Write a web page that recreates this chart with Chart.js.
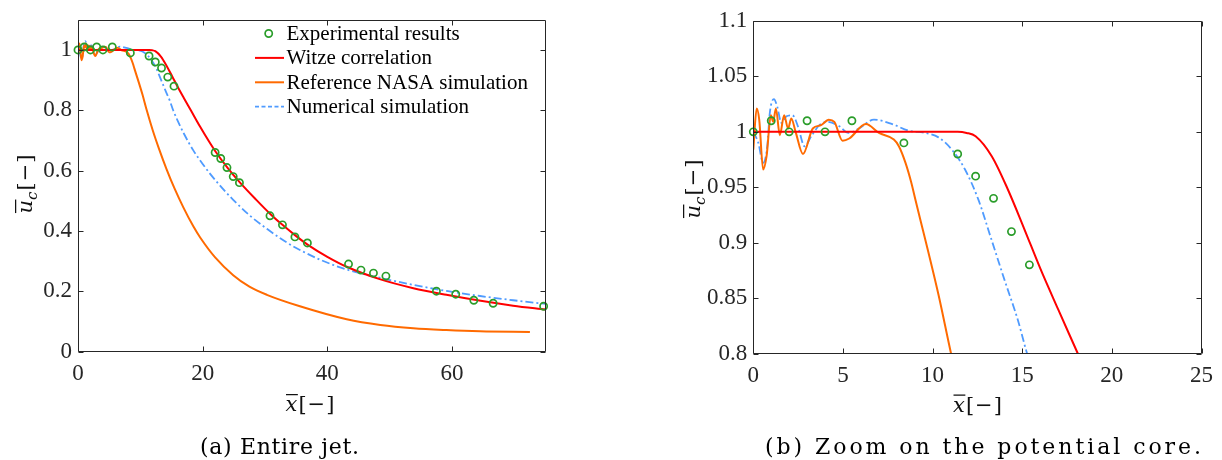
<!DOCTYPE html>
<html>
<head>
<meta charset="utf-8">
<script src="https://cdn.jsdelivr.net/npm/chart.js@4.4.1/dist/chart.umd.min.js"></script>
<style>
  html, body { margin: 0; padding: 0; background: #fff; }
  body { width: 1222px; height: 460px; position: relative; overflow: hidden; }
  canvas { position: absolute; top: 0; }
  #jetFull { left: 0; }
  #jetCore { left: 611px; }
</style>
</head>
<body>
<canvas id="jetFull" width="611" height="460"></canvas>
<canvas id="jetCore" width="611" height="460"></canvas>
<script>
// Centreline velocity u_c versus axial distance x (both normalised)

// Experimental results
const expX = [0, 1, 2, 3, 4, 5.5, 8.4, 11.4, 12.4, 13.4, 14.4, 15.4, 22.0, 22.9, 23.9, 24.9, 25.9,
              30.8, 32.8, 34.8, 36.8, 43.4, 45.4, 47.4, 49.4, 57.5, 60.6, 63.5, 66.6, 74.7];
const expY = [1.0, 1.01, 1.0, 1.01, 1.0, 1.01, 0.99, 0.98, 0.96, 0.94, 0.91, 0.88, 0.66, 0.64, 0.61, 0.58, 0.56,
              0.45, 0.42, 0.38, 0.36, 0.29, 0.27, 0.26, 0.25, 0.20, 0.19, 0.17, 0.16, 0.15];

// Witze correlation
const witzeX = [0, 11.4, 11.9, 12.4, 13.3, 14.2, 15.1, 16.0, 17.0, 18.1, 19.6, 21.0, 22.0, 24.0, 26.0,
                28.5, 30.8, 32.8, 34.8, 37.0, 40.0, 43.1, 48.4, 53.8, 59.1, 64.6, 69.8, 75];
const witzeY = [1.0, 1.0, 0.999, 0.996, 0.978, 0.948, 0.913, 0.877, 0.840, 0.800, 0.745, 0.697, 0.665, 0.609, 0.560,
                0.505, 0.457, 0.420, 0.386, 0.352, 0.314, 0.281, 0.240, 0.210, 0.188, 0.168, 0.152, 0.139];

// Reference NASA simulation
const nasaX = [0, 0.19, 0.33, 0.55, 0.74, 0.98, 1.11, 1.26, 1.48, 1.72, 1.94, 2.12, 2.36, 2.77, 3.32, 3.78,
               4.21, 4.52, 4.98, 5.35, 6.28, 7.01, 7.84, 8.12, 8.49, 8.8, 9.04, 10.33, 11.03, 12.0, 13.0, 14.2,
               15.5, 16.9, 18.5, 19.6, 22.0, 24.9, 27.5, 30.3, 35.6, 43.1, 48.5, 53.8, 59.1, 64.5, 72.5];
const nasaY = [0.984, 1.021, 1.011, 0.966, 0.978, 1.015, 1.009, 1.021, 0.997, 1.015, 1.003, 1.012, 1.0, 0.980, 1.003, 1.006,
               1.011, 1.009, 0.992, 0.994, 1.007, 0.999, 0.993, 0.987, 0.972, 0.955, 0.939, 0.853, 0.800, 0.733, 0.672, 0.605,
               0.540, 0.478, 0.415, 0.378, 0.312, 0.253, 0.215, 0.188, 0.150, 0.107, 0.088, 0.077, 0.071, 0.067, 0.065];

// Numerical simulation
const numX = [0, 0.28, 0.55, 0.78, 0.92, 1.15, 1.33, 1.57, 1.85, 2.18, 2.49, 2.86, 3.23, 3.69, 4.15, 4.8,
              5.31, 5.9, 6.73, 7.75, 8.67, 9.6, 10.33, 11.07, 11.81, 12.55, 13.28, 14.02, 14.76, 15.27,
              16.0, 17.0, 18.5, 20.0, 21.2, 23.0, 24.9, 27.5, 30.3, 33.0, 35.3, 39.0, 43.1, 48.5, 53.8,
              59.1, 64.5, 69.8, 75];
const numY = [1.0, 0.990, 0.972, 0.987, 1.017, 1.0295, 1.023, 1.008, 1.014, 1.015, 1.005, 0.987, 0.996, 1.006, 1.009, 1.005,
              0.999, 1.003, 1.011, 1.007, 1.001, 0.999, 0.995, 0.984, 0.966, 0.939, 0.903, 0.866, 0.830, 0.800,
              0.765, 0.722, 0.667, 0.622, 0.589, 0.545, 0.503, 0.452, 0.407, 0.368, 0.340, 0.303, 0.272, 0.244, 0.221,
              0.201, 0.184, 0.170, 0.158];

const seriesLabels = ['Experimental results', 'Witze correlation', 'Reference NASA simulation', 'Numerical simulation'];

// Tick positions
const fullXTicks = [0, 20, 40, 60];
const fullYTicks = [0, 0.2, 0.4, 0.6, 0.8, 1];
const coreXTicks = [0, 5, 10, 15, 20, 25];
const coreYTicks = [0.8, 0.85, 0.9, 0.95, 1, 1.05, 1.1];

const SERIF = "'Liberation Serif', 'Times New Roman', serif";
const MATH = "'DejaVu Serif', serif";
const AXIS = '#262626';
const COLORS = ['#2a9d2a', '#ff0000', '#ff6a00', '#4f9bff'];

function pairs(xs, ys) { return xs.map((v, i) => ({ x: v, y: ys[i] })); }

function makeDatasets() {
  const line = { showLine: true, pointRadius: 0, pointHoverRadius: 0, borderWidth: 2,
                 cubicInterpolationMode: 'monotone', fill: false };
  return [
    { label: seriesLabels[0], data: pairs(expX, expY), showLine: false,
      pointRadius: 3.6, pointBorderWidth: 1.7, pointStyle: 'circle',
      pointBorderColor: COLORS[0], pointBackgroundColor: 'rgba(255,255,255,0)',
      borderColor: COLORS[0], backgroundColor: 'rgba(255,255,255,0)',
      clip: { left: 6, top: 6, right: 6, bottom: 6 } },
    Object.assign({ label: seriesLabels[1], data: pairs(witzeX, witzeY), borderColor: COLORS[1] }, line),
    Object.assign({ label: seriesLabels[2], data: pairs(nasaX, nasaY), borderColor: COLORS[2] }, line),
    Object.assign({ label: seriesLabels[3], data: pairs(numX, numY), borderColor: COLORS[3],
                    borderDash: [8, 3, 2, 3] }, line, { borderWidth: 1.8 })
  ];
}

function fmt(v) { return String(+(+v).toFixed(2)); }

function axes(cfg) {
  const tickFont = { family: SERIF, size: 23 };
  return {
    x: {
      type: 'linear', min: cfg.xMin, max: cfg.xMax,
      afterBuildTicks: s => { s.ticks = cfg.xTicks.map(v => ({ value: v })); },
      afterFit: s => { s.height = cfg.xHeight; },
      ticks: { font: tickFont, color: AXIS, padding: 9, maxRotation: 0, autoSkip: false, callback: fmt },
      grid: { display: false, drawTicks: false }, border: { display: false }
    },
    y: {
      type: 'linear', min: cfg.yMin, max: cfg.yMax,
      afterBuildTicks: s => { s.ticks = cfg.yTicks.map(v => ({ value: v })); },
      afterFit: s => { s.width = cfg.yWidth; },
      ticks: { font: tickFont, color: AXIS, padding: 6, autoSkip: false, callback: fmt },
      grid: { display: false, drawTicks: false }, border: { display: false }
    }
  };
}

// Draws a sequence of text pieces (math-style label); returns the total width
function drawPieces(ctx, pieces, size, x0, baseY, draw) {
  let x = x0;
  for (const p of pieces) {
    const fs = p.sub ? size * 0.72 : size;
    ctx.font = (p.italic ? 'italic ' : '') + fs + 'px ' + MATH;
    const w = ctx.measureText(p.t).width;
    const dy = p.sub ? size * 0.24 : 0;
    if (draw) {
      ctx.fillText(p.t, x, baseY + dy);
      if (p.bar) {
        ctx.save();
        ctx.lineWidth = Math.max(1, size * 0.06);
        const by = baseY - size * 0.78;
        ctx.beginPath(); ctx.moveTo(x + size * 0.02, by); ctx.lineTo(x + w + size * 0.02, by); ctx.stroke();
        ctx.restore();
      }
    }
    x += w + (p.gap || 0);
  }
  return x - x0;
}

const xTitle = [{ t: 'x', italic: true, bar: true, gap: 1 }, { t: '[', gap: 1 }, { t: '\u2212', gap: 1 }, { t: ']' }];
const yTitle = [{ t: 'u', italic: true, bar: true, gap: 0 }, { t: 'c', italic: true, sub: true, gap: 1 },
                { t: '[', gap: 1 }, { t: '\u2212', gap: 1 }, { t: ']' }];

const decorations = {
  id: 'decorations',
  afterDraw(chart, args, o) {
    const { ctx, chartArea: a, scales } = chart;
    const L = Math.round(a.left) + 0.5, R = Math.round(a.right) - 0.5;
    const T = Math.round(a.top) + 0.5, B = Math.round(a.bottom) - 0.5;
    ctx.save();
    ctx.strokeStyle = AXIS; ctx.fillStyle = AXIS; ctx.lineWidth = 1;
    ctx.beginPath();
    ctx.rect(L, T, R - L, B - T);
    const tl = 5;
    scales.x.ticks.forEach(t => {
      const px = Math.round(scales.x.getPixelForValue(t.value)) + 0.5;
      ctx.moveTo(px, B); ctx.lineTo(px, B - tl);
      ctx.moveTo(px, T); ctx.lineTo(px, T + tl);
    });
    scales.y.ticks.forEach(t => {
      const py = Math.round(scales.y.getPixelForValue(t.value)) + 0.5;
      ctx.moveTo(L, py); ctx.lineTo(L + tl, py);
      ctx.moveTo(R, py); ctx.lineTo(R - tl, py);
    });
    ctx.stroke();

    // axis titles
    ctx.fillStyle = '#111'; ctx.strokeStyle = '#111';
    ctx.textBaseline = 'alphabetic'; ctx.textAlign = 'left';
    let w = drawPieces(ctx, xTitle, o.titleSize, 0, 0, false);
    drawPieces(ctx, xTitle, o.titleSize, o.xTitleX - w / 2, o.xTitleBase, true);

    ctx.save();
    ctx.translate(o.yTitleBase, o.yTitleY);
    ctx.rotate(-Math.PI / 2);
    w = drawPieces(ctx, yTitle, o.titleSize, 0, 0, false);
    drawPieces(ctx, yTitle, o.titleSize, -w / 2, 0, true);
    ctx.restore();

    // sub-figure caption, spread over its line
    ctx.font = o.capSize + 'px ' + MATH;
    ctx.fillStyle = '#000';
    const chars = Array.from(o.caption);
    const cw = ctx.measureText(o.caption).width;
    const sp = Math.max(0, (o.capWidth - cw) / (chars.length - 1));
    let cx = o.capX - (cw + sp * (chars.length - 1)) / 2;
    for (const ch of chars) {
      ctx.fillText(ch, cx, o.capBase);
      cx += ctx.measureText(ch).width + sp;
    }

    // legend
    if (o.legend) {
      const lg = o.legend;
      ctx.textBaseline = 'middle';
      chart.data.datasets.forEach((ds, i) => {
        const y = lg.y0 + i * lg.dy;
        ctx.save();
        if (ds.showLine === false) {
          ctx.strokeStyle = ds.pointBorderColor; ctx.lineWidth = ds.pointBorderWidth;
          ctx.beginPath(); ctx.arc(lg.markX, y, ds.pointRadius, 0, Math.PI * 2); ctx.stroke();
        } else {
          ctx.strokeStyle = ds.borderColor; ctx.lineWidth = ds.borderWidth;
          ctx.setLineDash(ds.borderDash ? [4, 2.5] : []);
          ctx.beginPath(); ctx.moveTo(lg.lineX0, y); ctx.lineTo(lg.lineX1, y); ctx.stroke();
        }
        ctx.restore();
        ctx.font = lg.size + 'px ' + SERIF;
        ctx.fillStyle = '#000';
        ctx.fillText(ds.label, lg.textX, y + 1);
      });
    }
    ctx.restore();
  }
};

function build(id, cfg, deco) {
  return new Chart(document.getElementById(id), {
    type: 'scatter',
    data: { datasets: makeDatasets() },
    options: {
      responsive: false, animation: false, devicePixelRatio: 1,
      layout: { padding: cfg.padding },
      scales: axes(cfg),
      plugins: { legend: { display: false }, tooltip: { enabled: false }, decorations: deco }
    },
    plugins: [decorations]
  });
}

// (a) whole jet
build('jetFull', {
  xMin: 0, xMax: 75, yMin: 0, yMax: 1.1,
  xTicks: fullXTicks, yTicks: fullYTicks,
  yWidth: 78, xHeight: 108.5,
  padding: { left: 0, top: 12, right: 65.5, bottom: 0 }
}, {
  titleSize: 21,
  xTitleX: 310, xTitleBase: 411,
  yTitleBase: 32, yTitleY: 184,
  caption: '(a) Entire jet.', capX: 279.5, capWidth: 159, capBase: 454, capSize: 22,
  legend: { y0: 33.5, dy: 24.4, markX: 268.7, lineX0: 255, lineX1: 284, textX: 286.5, size: 21 }
});

// (b) potential core close-up
build('jetCore', {
  xMin: 0, xMax: 25, yMin: 0.8, yMax: 1.1,
  xTicks: coreXTicks, yTicks: coreYTicks,
  yWidth: 142.3, xHeight: 106.5,
  padding: { left: 0, top: 21, right: 17.5, bottom: 0 }
}, {
  titleSize: 21,
  xTitleX: 366.5, xTitleBase: 411.5,
  yTitleBase: 89, yTitleY: 189,
  caption: '(b) Zoom on the potential core.', capX: 372, capWidth: 436, capBase: 454, capSize: 22,
  legend: null
});
</script>
</body>
</html>
